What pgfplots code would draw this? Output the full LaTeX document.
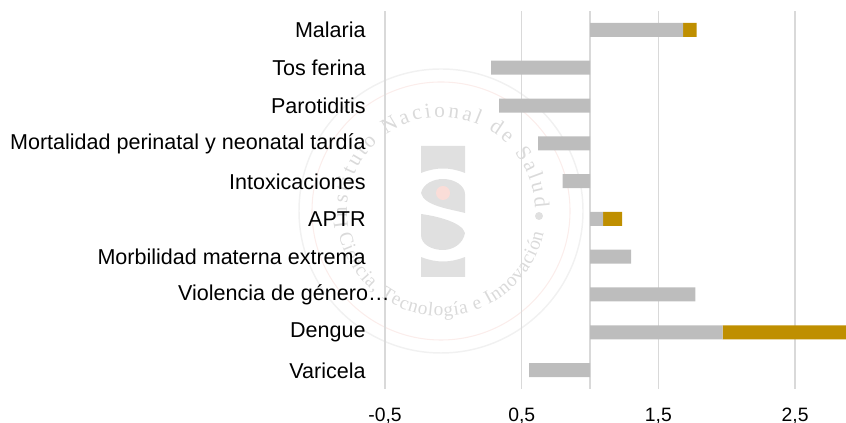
\documentclass[border=0pt]{standalone}
\usepackage{fontspec}
\setmainfont{Liberation Sans}
\newfontfamily\sealfont{Liberation Serif}
\usepackage{pgfplots}
\pgfplotsset{compat=1.18}
\usetikzlibrary{decorations.text}
\definecolor{barg}{HTML}{BDBDBD}
\definecolor{bargold}{HTML}{BF8F00}
\definecolor{gridc}{HTML}{D9D9D9}
\definecolor{sealg}{HTML}{E0E0E0}
\definecolor{sealt}{HTML}{DADADA}
\definecolor{sealr}{HTML}{FBEDEB}
\definecolor{sealo}{HTML}{F1F1F1}
\definecolor{sealdot}{HTML}{FADDD8}
\begin{document}
\begin{tikzpicture}
\path[use as bounding box] (0,0) rectangle (634.5pt,317.25pt);
% watermark (px coordinates, y up)
\begin{scope}[x=.75pt,y=.75pt]
\draw[line width=1.1pt,color=sealo] (441,212) circle (142);
\draw[line width=.8pt,color=sealr] (441,212) circle (129);
\begin{scope}[yscale=-1,shift={(0,-423)}]
\fill[sealg] (421,146) -- (465,146) -- (465,173) .. controls (450,167) and (436,167) .. (421,173) -- cycle;
\fill[sealg] (421,193) .. controls (423,184) and (433,179) .. (443,179) .. controls (455,179) and (465,186) .. (465,194) -- (465,213) .. controls (450,209) and (424,206) .. (421,193) -- cycle;
\fill[sealg] (421,214) .. controls (436,216) and (462,222) .. (465,233) .. controls (463,244) and (453,250) .. (443,250) .. controls (431,250) and (421,244) .. (421,235) -- cycle;
\fill[sealg] (421,257) .. controls (436,263) and (450,263) .. (465,257) -- (465,277) -- (421,277) -- cycle;
\fill[sealdot] (443,193) circle (7);
\fill[sealg] (539,216) circle (4);
\end{scope}
\path[decorate,decoration={text along path,text align=fit to path,
  text={|\sealfont\fontsize{16}{16}\selectfont\color{sealt}|Instituto Nacional de Salud}}]
  (441,212) ++(190:94) arc[start angle=190,end angle=2,radius=94];
\path[decorate,decoration={text along path,text align=fit to path,
  text={|\sealfont\fontsize{14.5}{15}\selectfont\color{sealt}|Ciencia, Tecnología e Innovación}}]
  (441,212) ++(193:105) arc[start angle=193,end angle=348,radius=105];
\end{scope}
\begin{axis}[
  at={(288.75pt,25.5pt)},anchor=south west,
  scale only axis,width=345.75pt,height=283.5pt,
  xbar stacked,bar width=10.5pt,
  xmin=-0.5,xmax=2.872,ymin=-0.5,ymax=9.5,y dir=reverse,
  axis line style={draw=none},
  major tick length=0pt,
  xtick={-0.5,0.5,1.5,2.5},
  xticklabels={{-0,5},{0,5},{1,5},{2,5}},
  extra x ticks={1},extra x tick labels={},
  extra tick style={grid=major},
  xmajorgrids,
  grid style={color=gridc,line width=1.1pt},
  ytick={0,...,9},
  yticklabels={Malaria,Tos ferina,Parotiditis,Mortalidad perinatal y neonatal tardía,Intoxicaciones,APTR,Morbilidad materna extrema,{Violencia de género…\hspace*{-18pt}},Dengue,Varicela},
  yticklabel style={font=\fontsize{16.15}{19}\selectfont,text=black,xshift=-11pt,yshift=-0.3pt},
  xticklabel style={font=\fontsize{14.5}{18}\selectfont,text=black,yshift=-10.5pt},
]
\addplot[draw=none,fill=none] coordinates {(1,0) (0.276,1) (0.334,2) (0.62,3) (0.80,4) (1,5) (1,6) (1,7) (1,8) (0.555,9)};
\addplot[draw=none,fill=barg] coordinates {(0.68,0) (0.724,1) (0.666,2) (0.38,3) (0.20,4) (0.095,5) (0.30,6) (0.77,7) (0.97,8) (0.445,9)};
\addplot[draw=none,fill=bargold] coordinates {(0.10,0) (0,1) (0,2) (0,3) (0,4) (0.14,5) (0,6) (0,7) (0.902,8) (0,9)};
\end{axis}
\end{tikzpicture}
\end{document}
